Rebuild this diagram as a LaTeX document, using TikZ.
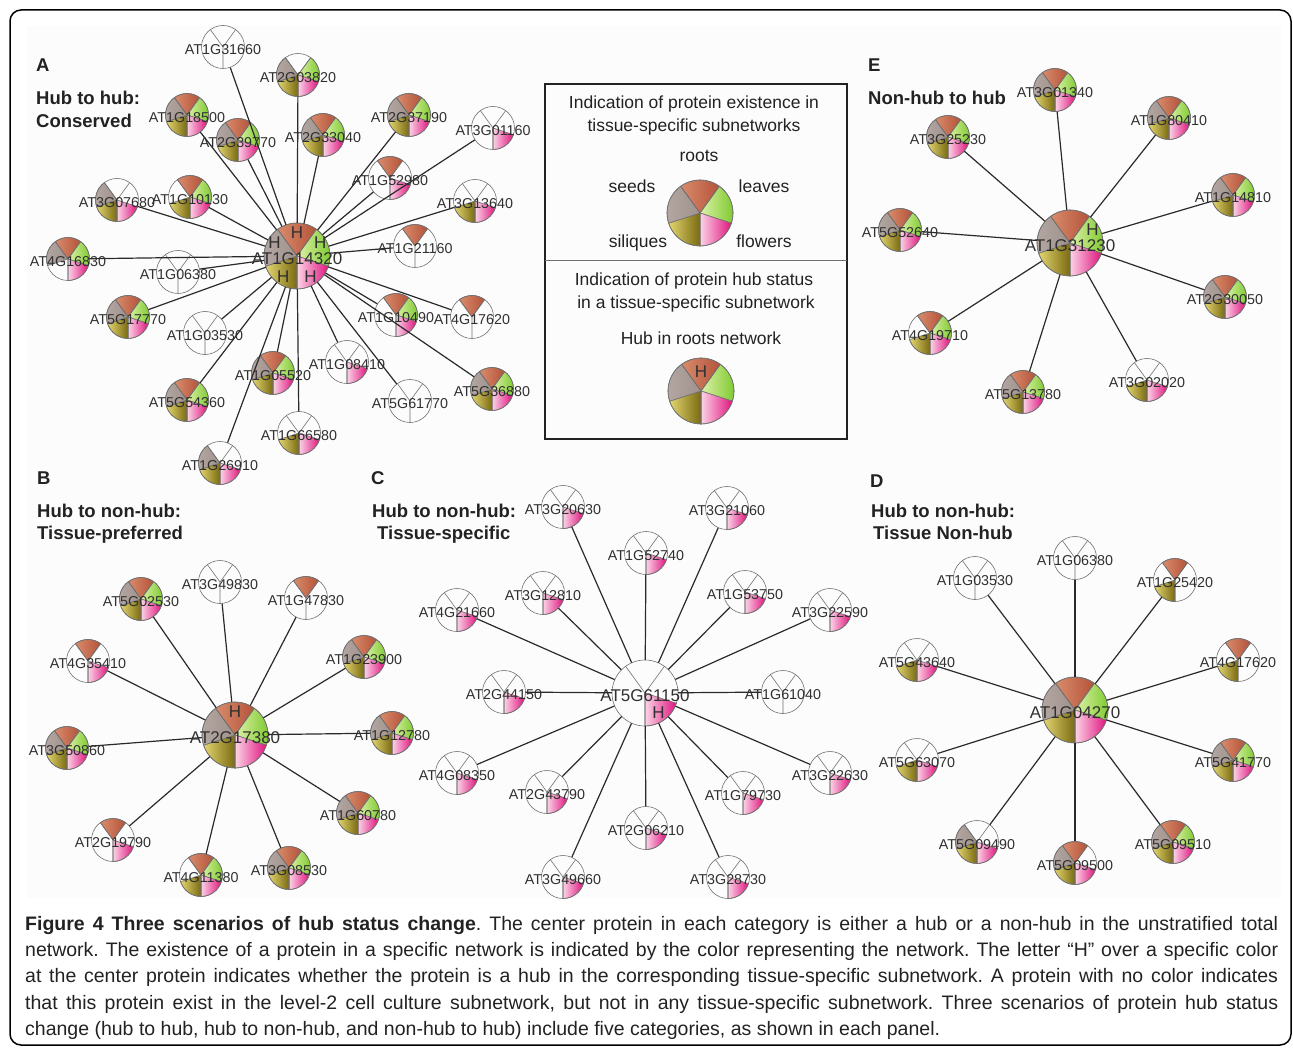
\documentclass[tikz,border=0pt]{standalone}
\usepackage{fontspec}
\setmainfont{Liberation Sans}
\newfontfamily\capfont{Liberation Sans}
\pgfdeclarelayer{fg}
\pgfsetlayers{main,fg}
\definecolor{rootA}{HTML}{D98B6C}
\definecolor{rootB}{HTML}{B4533A}
\definecolor{leafA}{HTML}{DDF0A8}
\definecolor{leafB}{HTML}{78C828}
\definecolor{flowA}{HTML}{FBD3E6}
\definecolor{flowB}{HTML}{E0157F}
\definecolor{silA}{HTML}{E2D56E}
\definecolor{silB}{HTML}{7A6A12}
\definecolor{seedA}{HTML}{B4A8A4}
\definecolor{seedB}{HTML}{A0928C}
\definecolor{pgray}{HTML}{707070}
\definecolor{edgec}{HTML}{2A2A2A}
\definecolor{labc}{HTML}{303030}
\definecolor{titc}{HTML}{222222}
\definecolor{bgc}{HTML}{FCFCFD}
\tikzset{
  pieline/.style={draw=pgray, line width=0.6pt},
  sect/.style={draw=pgray, line width=0.6pt},
  edge/.style={draw=edgec, line width=1.2pt},
  lbl/.style={font=\fontsize{14.3}{14.3}\selectfont, text=labc, inner sep=0pt},
  clbl/.style={font=\fontsize{17}{17}\selectfont, text=labc, inner sep=0pt},
  hlab/.style={font=\fontsize{17}{17}\selectfont, text=labc, inner sep=0pt},
  ptitle/.style={font=\bfseries\fontsize{18.5}{18.5}\selectfont, text=titc, anchor=base west, inner sep=0pt},
  legtxt/.style={font=\fontsize{17.5}{17.5}\selectfont, text=titc, inner sep=0pt, anchor=base},
  capline/.style={font=\capfont\fontsize{19.5}{20}\selectfont\frenchspacing, text=titc, anchor=base west, inner sep=0pt},
}
% #1 id, #2 x,y, #3 r, #4 roots, #5 leaves, #6 flowers, #7 siliques, #8 seeds
\newcommand{\pieshape}[8]{%
  \node[circle,inner sep=0pt,minimum size={2*#3pt}] (#1) at (#2) {};%
  \ifnum#4=1 \shadedraw[sect,left color=rootA,right color=rootB] (#1.center) -- ++(54:#3pt) arc[start angle=54,end angle=126,radius=#3pt] -- cycle;\fi
  \ifnum#5=1 \shadedraw[sect,left color=leafA,right color=leafB] (#1.center) -- ++(-18:#3pt) arc[start angle=-18,end angle=54,radius=#3pt] -- cycle;\fi
  \ifnum#6=1 \shadedraw[sect,left color=flowA,right color=flowB] (#1.center) -- ++(-90:#3pt) arc[start angle=-90,end angle=-18,radius=#3pt] -- cycle;\fi
  \ifnum#7=1 \shadedraw[sect,left color=silA,right color=silB] (#1.center) -- ++(198:#3pt) arc[start angle=198,end angle=270,radius=#3pt] -- cycle;\fi
  \ifnum#8=1 \shadedraw[sect,left color=seedA,right color=seedB] (#1.center) -- ++(126:#3pt) arc[start angle=126,end angle=198,radius=#3pt] -- cycle;\fi
  \draw[pieline] (#1.center) circle[radius=#3pt];%
  \draw[pieline] (#1.center) -- ++(54:#3pt) (#1.center) -- ++(126:#3pt) (#1.center) -- ++(270:#3pt);%
}
% small node: #1 id, #2 x,y, #3 label, #4-#8 flags
\newcommand{\sn}[8]{%
  \pieshape{#1}{#2}{21.5}{#4}{#5}{#6}{#7}{#8}%
  \begin{pgfonlayer}{fg}\node[lbl] at ([yshift=-3pt]#1.center) {#3};\end{pgfonlayer}%
}
% center node
\newcommand{\cn}[8]{%
  \pieshape{#1}{#2}{33}{#4}{#5}{#6}{#7}{#8}%
  \begin{pgfonlayer}{fg}\node[clbl] at ([yshift=-3pt]#1.center) {#3};\end{pgfonlayer}%
}
\newcommand{\hh}[3]{\begin{pgfonlayer}{fg}\node[hlab] at ([shift={(#2:#3pt)}]#1.center) {H};\end{pgfonlayer}}
\begin{document}
\begin{tikzpicture}[x=1pt,y=1pt]
\useasboundingbox (0,0) rectangle (1293,-1048);
\fill[white] (0,0) rectangle (1293,-1048);
\fill[bgc] (27,-26) rectangle (1281,-898);
\draw[line width=1.5pt, rounded corners=11pt, draw=black] (10,-10) rectangle (1291,-1045);

% ---------------- Panel A ----------------
\node[ptitle] at (36,-72) {A};
\node[ptitle] at (36,-104.5) {Hub to hub:};
\node[ptitle] at (36,-127.5) {Conserved};
\cn{ac}{297,-256}{AT1G14320}{1}{1}{1}{1}{1}
\hh{ac}{90}{23}\hh{ac}{30}{27}\hh{ac}{150}{26}\hh{ac}{237}{25}\hh{ac}{303}{25}
\sn{a1}{223,-47}{AT1G31660}{0}{0}{0}{0}{0}
\sn{a2}{298,-75}{AT2G03820}{0}{1}{1}{1}{1}
\sn{a3}{187,-115}{AT1G18500}{1}{1}{1}{1}{1}
\sn{a4}{238,-140}{AT2G39770}{1}{1}{1}{1}{1}
\sn{a5}{323,-135}{AT2G33040}{1}{1}{1}{1}{1}
\sn{a6}{409,-115}{AT2G37190}{1}{1}{1}{1}{1}
\sn{a7}{493,-128}{AT3G01160}{0}{0}{1}{0}{0}
\sn{a8}{390,-178}{AT1G52980}{1}{0}{1}{0}{0}
\sn{a9}{475,-201}{AT3G13640}{0}{0}{1}{1}{0}
\sn{a10}{415,-246}{AT1G21160}{1}{0}{0}{0}{0}
\sn{a11}{396,-315}{AT1G10490}{1}{1}{1}{0}{0}
\sn{a12}{472,-317}{AT4G17620}{1}{0}{0}{0}{0}
\sn{a13}{492,-389}{AT5G36880}{1}{1}{1}{1}{1}
\sn{a14}{410,-401}{AT5G61770}{0}{0}{0}{0}{0}
\sn{a15}{347,-362}{AT1G08410}{0}{0}{1}{0}{0}
\sn{a16}{299,-433}{AT1G66580}{0}{0}{1}{1}{0}
\sn{a17}{273,-373}{AT1G05520}{1}{1}{1}{1}{1}
\sn{a18}{187,-400}{AT5G54360}{1}{1}{1}{1}{1}
\sn{a19}{220,-463}{AT1G26910}{0}{0}{1}{1}{1}
\sn{a20}{205,-333}{AT1G03530}{0}{0}{0}{0}{0}
\sn{a21}{128,-317}{AT5G17770}{1}{1}{1}{1}{1}
\sn{a22}{178,-272}{AT1G06380}{0}{0}{0}{0}{0}
\sn{a23}{68,-259}{AT4G16830}{1}{1}{1}{0}{1}
\sn{a24}{117,-200}{AT3G07680}{0}{0}{1}{1}{1}
\sn{a25}{190,-197}{AT1G10130}{1}{1}{1}{1}{0}
\foreach \n in {a1,a2,a3,a4,a5,a6,a7,a8,a9,a10,a11,a12,a13,a14,a15,a16,a17,a18,a19,a20,a21,a22,a23,a24,a25}
  \draw[edge] (ac) -- (\n);

% ---------------- Legend ----------------
\draw[line width=1.2pt, draw=titc] (545,-84) rectangle (847,-439);
\draw[line width=0.8pt, draw=pgray] (545,-260) -- (847,-260);
\node[legtxt] at (694,-109) {Indication of protein existence in};
\node[legtxt] at (694,-132) {tissue-specific subnetworks};
\node[legtxt] at (699,-162) {roots};
\node[legtxt] at (632,-193) {seeds};
\node[legtxt] at (764,-193) {leaves};
\node[legtxt] at (638,-248) {siliques};
\node[legtxt] at (764,-248) {flowers};
\pieshape{lg1}{700,-213}{33}{1}{1}{1}{1}{1}
\node[legtxt] at (694,-286) {Indication of protein hub status};
\node[legtxt] at (696,-309) {in a tissue-specific subnetwork};
\node[legtxt] at (701,-345) {Hub in roots network};
\pieshape{lg2}{701,-391}{33}{1}{1}{1}{1}{1}
\hh{lg2}{90}{19}

% ---------------- Panel E ----------------
\node[ptitle] at (868,-72) {E};
\node[ptitle] at (868,-104.5) {Non-hub to hub};
\cn{ec}{1070,-243}{AT1G31230}{1}{1}{1}{1}{1}
\hh{ec}{30}{26}
\sn{e1}{1055,-90}{AT3G01340}{1}{1}{1}{1}{1}
\sn{e2}{1169,-118}{AT1G80410}{1}{1}{1}{1}{1}
\sn{e3}{948,-137}{AT3G25230}{1}{1}{1}{1}{1}
\sn{e4}{1233,-195}{AT1G14810}{1}{1}{1}{1}{1}
\sn{e5}{900,-230}{AT5G52640}{1}{1}{1}{1}{1}
\sn{e6}{1225,-297}{AT2G30050}{1}{1}{1}{1}{1}
\sn{e7}{930,-333}{AT4G19710}{1}{1}{1}{1}{0}
\sn{e8}{1023,-392}{AT5G13780}{1}{1}{1}{1}{1}
\sn{e9}{1147,-380}{AT3G02020}{0}{0}{1}{1}{0}
\foreach \n in {e1,e2,e3,e4,e5,e6,e7,e8,e9}
  \draw[edge] (ec) -- (\n);

% ---------------- Panel B ----------------
\node[ptitle] at (37,-484) {B};
\node[ptitle] at (37,-517.5) {Hub to non-hub:};
\node[ptitle] at (37,-539.5) {Tissue-preferred};
\cn{bc}{235,-735}{AT2G17380}{1}{1}{1}{1}{1}
\hh{bc}{90}{23}
\sn{b1}{220,-582}{AT3G49830}{0}{0}{0}{0}{0}
\sn{b2}{141,-599}{AT5G02530}{1}{1}{1}{1}{1}
\sn{b3}{306,-598}{AT1G47830}{1}{0}{0}{0}{0}
\sn{b4}{88,-661}{AT4G35410}{1}{0}{1}{0}{0}
\sn{b5}{364,-657}{AT1G23900}{1}{1}{1}{1}{1}
\sn{b6}{67,-748}{AT3G50860}{1}{1}{1}{1}{1}
\sn{b7}{392,-733}{AT1G12780}{1}{1}{1}{1}{1}
\sn{b8}{358,-813}{AT1G60780}{1}{1}{1}{1}{1}
\sn{b9}{113,-840}{AT2G19790}{1}{0}{1}{0}{0}
\sn{b10}{201,-875}{AT4G11380}{1}{1}{1}{1}{0}
\sn{b11}{289,-868}{AT3G08530}{1}{1}{1}{1}{1}
\foreach \n in {b1,b2,b3,b4,b5,b6,b7,b8,b9,b10,b11}
  \draw[edge] (bc) -- (\n);

% ---------------- Panel C ----------------
\node[ptitle] at (371,-484) {C};
\node[ptitle] at (372,-517.5) {Hub to non-hub:};
\node[ptitle] at (377,-539.5) {Tissue-specific};
\cn{cc}{645,-693}{AT5G61150}{0}{0}{1}{0}{0}
\hh{cc}{304}{24}
\sn{c1}{563,-507}{AT3G20630}{0}{0}{1}{0}{0}
\sn{c2}{727,-508}{AT3G21060}{0}{0}{1}{0}{0}
\sn{c3}{646,-553}{AT1G52740}{0}{0}{1}{0}{0}
\sn{c4}{543,-593}{AT3G12810}{0}{0}{1}{0}{0}
\sn{c5}{745,-592}{AT1G53750}{0}{0}{1}{0}{0}
\sn{c6}{457,-610}{AT4G21660}{0}{0}{1}{0}{0}
\sn{c7}{830,-610}{AT3G22590}{0}{0}{1}{0}{0}
\sn{c8}{504,-692}{AT2G44150}{0}{0}{1}{0}{0}
\sn{c9}{783,-692}{AT1G61040}{0}{0}{0}{0}{0}
\sn{c10}{457,-773}{AT4G08350}{0}{0}{1}{0}{0}
\sn{c11}{830,-773}{AT3G22630}{0}{0}{1}{0}{0}
\sn{c12}{547,-792}{AT2G43790}{0}{0}{1}{0}{0}
\sn{c13}{743,-793}{AT1G79730}{0}{0}{1}{0}{0}
\sn{c14}{646,-828}{AT2G06210}{0}{0}{1}{0}{0}
\sn{c15}{563,-877}{AT3G49660}{0}{0}{1}{0}{0}
\sn{c16}{728,-877}{AT3G28730}{0}{0}{1}{0}{0}
\foreach \n in {c1,c2,c3,c4,c5,c6,c7,c8,c9,c10,c11,c12,c13,c14,c15,c16}
  \draw[edge] (cc) -- (\n);

% ---------------- Panel D ----------------
\node[ptitle] at (870,-487) {D};
\node[ptitle] at (871,-517) {Hub to non-hub:};
\node[ptitle] at (873,-539.5) {Tissue Non-hub};
\cn{dc}{1075,-710}{AT1G04270}{1}{1}{1}{1}{1}
\sn{d1}{1075,-558}{AT1G06380}{0}{0}{0}{0}{0}
\sn{d2}{975,-578}{AT1G03530}{0}{0}{0}{0}{0}
\sn{d3}{1175,-580}{AT1G25420}{1}{0}{0}{1}{0}
\sn{d4}{917,-660}{AT5G43640}{0}{0}{1}{1}{0}
\sn{d5}{1238,-660}{AT4G17620}{1}{0}{0}{1}{0}
\sn{d6}{917,-760}{AT5G63070}{0}{0}{1}{1}{0}
\sn{d7}{1233,-760}{AT5G41770}{1}{1}{1}{1}{1}
\sn{d8}{977,-842}{AT5G09490}{0}{0}{1}{1}{1}
\sn{d9}{1075,-863}{AT5G09500}{1}{0}{1}{1}{1}
\sn{d10}{1173,-842}{AT5G09510}{1}{1}{1}{1}{1}
\foreach \n in {d1,d2,d3,d4,d5,d6,d7,d8,d9,d10}
  \draw[edge] (dc) -- (\n);

% ---------------- Caption ----------------
\node[capline] at (25,-930) {\hbox to 1253pt{\textbf{Figure 4 Three scenarios of hub status change}. The center protein in each category is either a hub or a non-hub in the unstratified total}};
\node[capline] at (25,-956) {\hbox to 1253pt{network. The existence of a protein in a specific network is indicated by the color representing the network. The letter “H” over a specific color}};
\node[capline] at (25,-982.5) {\hbox to 1253pt{at the center protein indicates whether the protein is a hub in the corresponding tissue-specific subnetwork. A protein with no color indicates}};
\node[capline] at (25,-1009) {\hbox to 1253pt{that this protein exist in the level-2 cell culture subnetwork, but not in any tissue-specific subnetwork. Three scenarios of protein hub status}};
\node[capline] at (25,-1035.5) {change (hub to hub, hub to non-hub, and non-hub to hub) include five categories, as shown in each panel.};
\end{tikzpicture}
\end{document}
